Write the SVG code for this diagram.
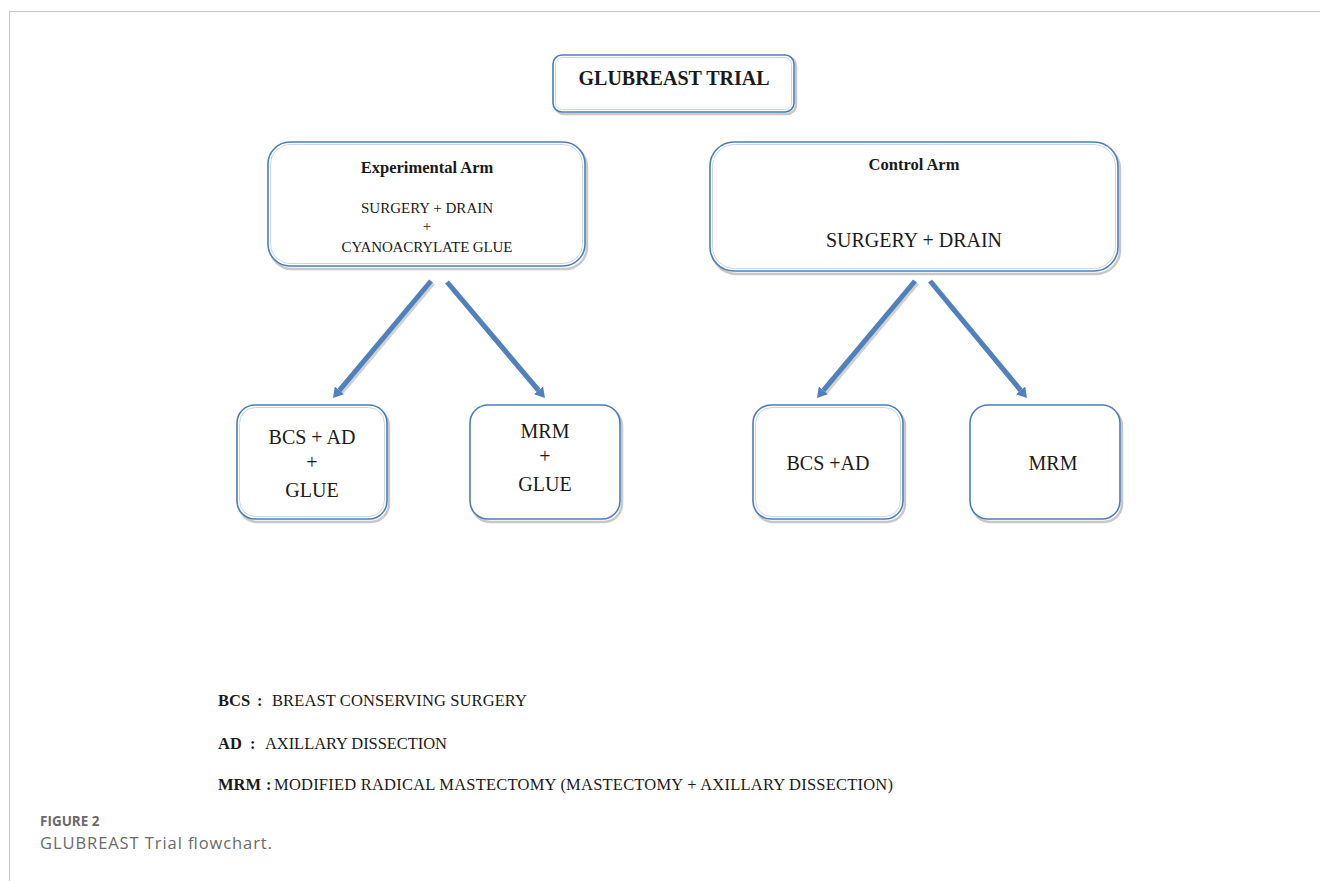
<svg xmlns="http://www.w3.org/2000/svg" width="1320" height="881" viewBox="0 0 1320 881">
<style>
.box{fill:#fff;stroke:#4a7ebb;stroke-width:1.6}
.shadow{fill:none;stroke:#b5b5b5;stroke-width:2.5;opacity:.75}
.inner{fill:none;stroke:#c9d6e8;stroke-width:1}
.t{font-family:"Liberation Serif","Times New Roman",serif;fill:#1a1a1a;text-anchor:middle}
.b{font-weight:bold}
.leg{font-family:"Liberation Serif","Times New Roman",serif;fill:#1a1a1a;font-size:16.5px}
.cap{font-family:"Open Sans","Liberation Sans",sans-serif;fill:#6a6a6a}
.arr{stroke:#4f81bd;stroke-width:5;fill:none;marker-end:url(#ah)}
.arrs{stroke:#9a9a9a;stroke-width:5;fill:none;opacity:.45}
</style>
<defs>
<marker id="ah" viewBox="0 0 10 12" refX="0" refY="6" markerWidth="10" markerHeight="12" markerUnits="userSpaceOnUse" orient="auto">
<path d="M0,0 L10,6 L0,12 z" fill="#4f81bd"/>
</marker>
</defs>
<rect width="1320" height="881" fill="#fff"/>
<path d="M9.5,881 V11.5 H1320" fill="none" stroke="#c8c8c8" stroke-width="1.2"/>

<g id="connectors">
<line class="arrs" x1="433" y1="283" x2="341.4" y2="392.3"/>
<line class="arrs" x1="449" y1="284" x2="540.5" y2="392.4"/>
<line class="arrs" x1="917" y1="283" x2="825.4" y2="392.3"/>
<line class="arrs" x1="932" y1="283" x2="1022.6" y2="392.3"/>
<line class="arr" x1="431" y1="281" x2="339.4" y2="390.3"/>
<line class="arr" x1="447" y1="282" x2="538.5" y2="390.4"/>
<line class="arr" x1="915" y1="281" x2="823.4" y2="390.3"/>
<line class="arr" x1="930" y1="281" x2="1020.6" y2="390.3"/>
</g>

<g id="title">
<rect class="shadow" x="555" y="57" width="241" height="57" rx="9"/>
<rect class="box" x="553" y="55" width="241" height="57" rx="9"/>
<rect class="inner" x="555.5" y="57.5" width="236" height="52" rx="7"/>
<text class="t b" x="674" y="85" font-size="20">GLUBREAST TRIAL</text>
</g>

<g id="experimental">
<rect class="shadow" x="270" y="145" width="317" height="124" rx="22"/>
<rect class="box" x="268" y="142" width="317" height="124" rx="22"/>
<rect class="inner" x="270.5" y="144.5" width="312" height="119" rx="20"/>
<text class="t b" x="427" y="173" font-size="16.5">Experimental Arm</text>
<text class="t" x="427" y="213" font-size="15">SURGERY + DRAIN</text>
<text class="t" x="427" y="231" font-size="15">+</text>
<text class="t" x="427" y="252" font-size="15" textLength="171">CYANOACRYLATE GLUE</text>
</g>

<g id="control">
<rect class="shadow" x="712" y="145" width="408" height="129" rx="24"/>
<rect class="box" x="710" y="142" width="408" height="129" rx="24"/>
<rect class="inner" x="712.5" y="144.5" width="403" height="124" rx="22"/>
<text class="t b" x="914" y="170" font-size="16.5">Control Arm</text>
<text class="t" x="914" y="247" font-size="20">SURGERY + DRAIN</text>
</g>

<g id="exp-bcs">
<rect class="shadow" x="239" y="408" width="150" height="114" rx="18"/>
<rect class="box" x="237" y="405" width="150" height="114" rx="18"/>
<rect class="inner" x="239.5" y="407.5" width="145" height="109" rx="16"/>
<text class="t" x="312" y="444" font-size="20">BCS + AD</text>
<text class="t" x="312" y="469" font-size="20">+</text>
<text class="t" x="312" y="497" font-size="20">GLUE</text>
</g>

<g id="exp-mrm">
<rect class="shadow" x="472" y="408" width="150" height="114" rx="18"/>
<rect class="box" x="470" y="405" width="150" height="114" rx="18"/>
<text class="t" x="545" y="438" font-size="20">MRM</text>
<text class="t" x="545" y="463" font-size="20">+</text>
<text class="t" x="545" y="491" font-size="20">GLUE</text>
</g>

<g id="ctl-bcs">
<rect class="shadow" x="755" y="408" width="150" height="114" rx="18"/>
<rect class="box" x="753" y="405" width="150" height="114" rx="18"/>
<rect class="inner" x="755.5" y="407.5" width="145" height="109" rx="16"/>
<text class="t" x="828" y="470" font-size="20">BCS +AD</text>
</g>

<g id="ctl-mrm">
<rect class="shadow" x="972" y="408" width="150" height="114" rx="18"/>
<rect class="box" x="970" y="405" width="150" height="114" rx="18"/>
<text class="t" x="1053" y="470" font-size="20">MRM</text>
</g>

<g id="legend">
<text class="leg" y="706"><tspan x="218" font-weight="bold">BCS</tspan><tspan x="257" font-weight="bold">:</tspan><tspan x="272" textLength="255">BREAST CONSERVING SURGERY</tspan></text>
<text class="leg" y="749"><tspan x="218" font-weight="bold">AD</tspan><tspan x="250" font-weight="bold">:</tspan><tspan x="265" textLength="182">AXILLARY DISSECTION</tspan></text>
<text class="leg" y="790"><tspan x="218" font-weight="bold">MRM</tspan><tspan x="266" font-weight="bold">:</tspan><tspan x="274" textLength="619">MODIFIED RADICAL MASTECTOMY (MASTECTOMY + AXILLARY DISSECTION)</tspan></text>
</g>

<g id="caption">
<text class="cap" x="40" y="826" font-size="13.5" font-weight="700">FIGURE 2</text>
<text class="cap" x="40" y="849" font-size="16.5" textLength="232">GLUBREAST Trial flowchart.</text>
</g>
</svg>
